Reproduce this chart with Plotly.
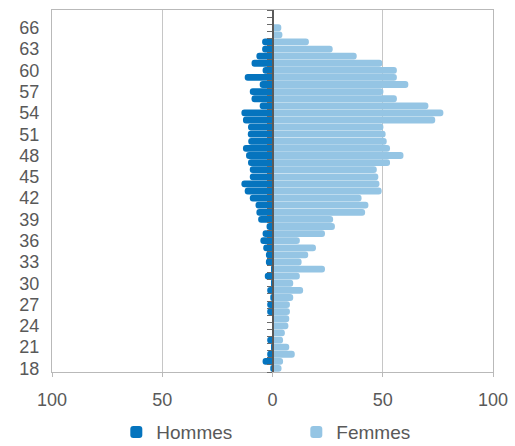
import plotly.graph_objects as go

# Age groups (18 to 68) and headcounts per sex
ages = list(range(18, 69))
hommes = [1, 4.5, 2.4, 0.5, 2.4, 0, 0, 0, 2.4, 2.4,
          1, 2.4, 0.5, 3.5, 0.5, 3, 3, 4.2, 5.5, 4.5,
          2.7, 6.5, 7.3, 7.7, 10.3, 12.6, 14.1, 10.3, 10.3, 11.1,
          12, 13.4, 11, 11.2, 11.1, 13.4, 14.1, 5.8, 9.5, 10.3,
          5.8, 12.6, 4.5, 9.5, 7.3, 4.7, 4.7, 0, 0, 0, 0]
femmes = [4.1, 4.8, 10.1, 7.6, 4.8, 5.6, 7.2, 7.6, 7.9, 7.9,
          9.4, 13.9, 9.4, 12.4, 23.8, 13.2, 16.2, 19.7, 12.4, 23.8,
          28.3, 27.5, 42, 43.5, 40.4, 49.5, 48.5, 48, 47.3, 53.3,
          59.4, 53.3, 51.8, 51.3, 50.3, 73.8, 77.5, 70.7, 56.4, 50.3,
          61.6, 56.4, 56.4, 49.8, 38.2, 27.3, 16.5, 4.5, 4, 0, 0]

age_ticks = list(range(18, 67, 3))
x_ticks = [-100, -50, 0, 50, 100]
x_labels = ["100", "50", "0", "50", "100"]

C_HOMMES = "#0574BE"
C_FEMMES = "#95C5E4"
TEXT = "#595959"
FRAME = "#b9b9b9"

fig = go.Figure()
fig.add_trace(go.Bar(
    y=ages, x=femmes, orientation="h", name="Femmes",
    marker=dict(color=C_FEMMES, line=dict(width=0)),
    width=0.96, yaxis="y",
))
fig.add_trace(go.Bar(
    y=ages, x=[-v for v in hommes], orientation="h", name="Hommes",
    marker=dict(color=C_HOMMES, line=dict(width=0)),
    width=0.96, yaxis="y2",
))

yrange = [17.5, 68.5]
fig.update_layout(
    width=515, height=446,
    margin=dict(l=52, r=22, t=10, b=74, autoexpand=False),
    paper_bgcolor="white", plot_bgcolor="white",
    barmode="overlay",
    barcornerradius=4,
    font=dict(family="Liberation Sans, Arial, sans-serif", size=18, color=TEXT),
    showlegend=True,
    legend=dict(
        orientation="h", x=0.554, xanchor="center", y=-0.166, yanchor="middle",
        traceorder="reversed", font=dict(size=19, color=TEXT),
        entrywidth=135, entrywidthmode="pixels",
        itemwidth=30,
    ),
    xaxis=dict(
        range=[-100, 100], tickvals=x_ticks, ticktext=x_labels,
        ticks="outside", ticklen=4, tickcolor=FRAME,
        ticklabelstandoff=7,
        showline=True, linecolor=FRAME, linewidth=1, mirror=True,
        showgrid=True, gridcolor="#c6c6c6", gridwidth=1,
        zeroline=False, fixedrange=True,
    ),
    yaxis=dict(
        range=yrange, tickvals=age_ticks, ticks="",
        ticklabelstandoff=8,
        showline=True, linecolor=FRAME, linewidth=1, mirror=True,
        showgrid=False, zeroline=False, fixedrange=True,
    ),
    yaxis2=dict(
        range=yrange, overlaying="y", anchor="free", position=0.5, side="left",
        tickmode="linear", tick0=17.5, dtick=1,
        ticks="outside", ticklen=5, tickwidth=1, tickcolor="#6a6a6a",
        showline=True, linecolor="#5a5a5a", linewidth=2,
        showticklabels=False, showgrid=False, zeroline=False, fixedrange=True,
    ),
)

fig.write_html("out.html")
